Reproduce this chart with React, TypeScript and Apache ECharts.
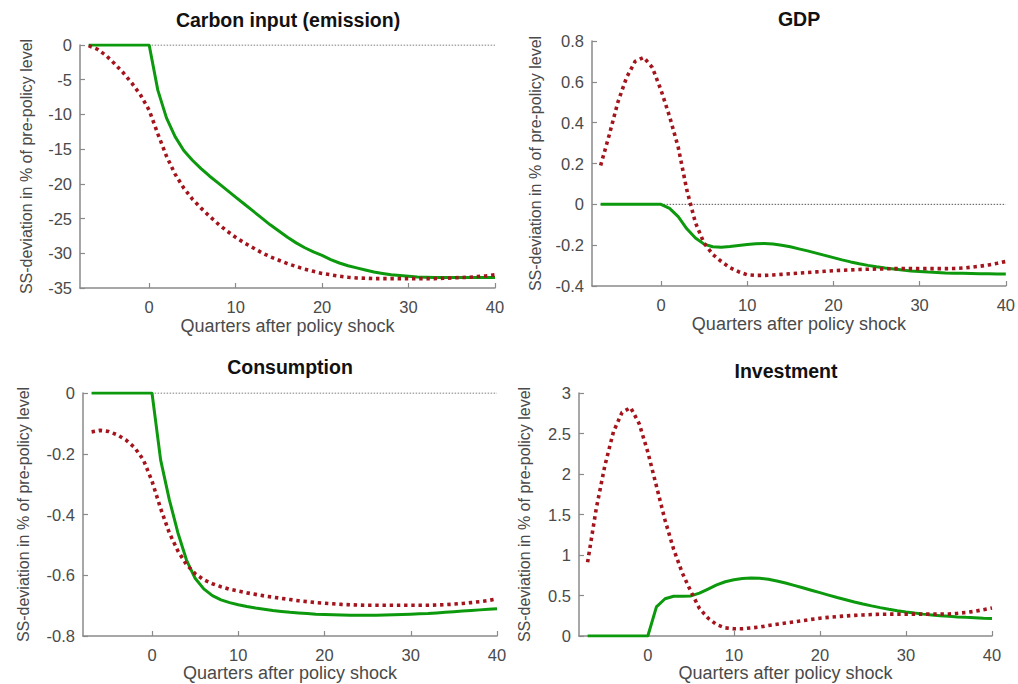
import React, { useEffect, useRef } from "react";
import * as echarts from "echarts";

// Quarters relative to the policy shock
const quarters = [
  -7, -6, -5, -4, -3, -2, -1, 0, 1, 2, 3, 4, 5, 6, 7, 8, 9, 10, 11, 12, 13, 14, 15, 16,
  17, 18, 19, 20, 21, 22, 23, 24, 25, 26, 27, 28, 29, 30, 31, 32, 33, 34, 35, 36, 37, 38, 39, 40,
];

// Carbon input (emission)
const carbonSurprise = [
  0, 0, 0, 0, 0, 0, 0, 0, -6.5, -10.5, -13.2, -15.2, -16.6, -17.8, -18.9, -19.9, -20.9, -21.9,
  -22.9, -23.9, -24.9, -25.9, -26.8, -27.7, -28.5, -29.2, -29.8, -30.3, -30.9, -31.4, -31.8,
  -32.1, -32.4, -32.7, -32.9, -33.1, -33.2, -33.3, -33.4, -33.45, -33.5, -33.5, -33.5, -33.5,
  -33.5, -33.5, -33.5, -33.5,
];
const carbonAnnounced = [
  -0.1, -0.6, -1.5, -2.7, -4.0, -5.5, -7.2, -9.4, -12.8, -16.0, -18.6, -20.6, -22.2, -23.5,
  -24.7, -25.8, -26.8, -27.7, -28.5, -29.2, -29.9, -30.5, -31.0, -31.5, -31.9, -32.3, -32.6,
  -32.9, -33.1, -33.3, -33.45, -33.55, -33.6, -33.65, -33.65, -33.65, -33.65, -33.65, -33.65,
  -33.65, -33.65, -33.6, -33.55, -33.5, -33.45, -33.35, -33.25, -33.1,
];

// GDP
const gdpSurprise = [
  0, 0, 0, 0, 0, 0, 0, 0, -0.02, -0.06, -0.12, -0.165, -0.195, -0.208, -0.21, -0.207, -0.202,
  -0.197, -0.193, -0.192, -0.194, -0.2, -0.208, -0.218, -0.228, -0.239, -0.25, -0.261, -0.272,
  -0.282, -0.291, -0.299, -0.306, -0.312, -0.317, -0.322, -0.326, -0.329, -0.332, -0.334,
  -0.336, -0.337, -0.338, -0.339, -0.34, -0.34, -0.341, -0.341,
];
const gdpAnnounced = [
  0.19, 0.34, 0.5, 0.62, 0.7, 0.72, 0.67, 0.56, 0.43, 0.28, 0.07, -0.09, -0.19, -0.245, -0.28,
  -0.31, -0.33, -0.345, -0.348, -0.348, -0.346, -0.343, -0.34, -0.337, -0.334, -0.331, -0.328,
  -0.325, -0.323, -0.321, -0.319, -0.318, -0.317, -0.316, -0.315, -0.315, -0.315, -0.315,
  -0.315, -0.315, -0.315, -0.314, -0.312, -0.308, -0.303, -0.297, -0.289, -0.28,
];

// Consumption
const consumptionSurprise = [
  0, 0, 0, 0, 0, 0, 0, 0, -0.22, -0.35, -0.46, -0.55, -0.61, -0.645, -0.667, -0.681, -0.69,
  -0.697, -0.703, -0.708, -0.712, -0.716, -0.719, -0.722, -0.724, -0.726, -0.728, -0.729,
  -0.73, -0.731, -0.732, -0.732, -0.732, -0.732, -0.731, -0.73, -0.729, -0.728, -0.727,
  -0.726, -0.724, -0.722, -0.72, -0.718, -0.716, -0.714, -0.712, -0.71,
];
const consumptionAnnounced = [
  -0.128, -0.123, -0.127, -0.138, -0.155, -0.18, -0.22, -0.29, -0.38, -0.46, -0.52, -0.565,
  -0.595, -0.615, -0.628, -0.638, -0.646, -0.652, -0.658, -0.663, -0.668, -0.672, -0.676,
  -0.68, -0.684, -0.687, -0.69, -0.692, -0.694, -0.696, -0.697, -0.698, -0.699, -0.699, -0.699,
  -0.699, -0.699, -0.699, -0.699, -0.699, -0.698, -0.697, -0.695, -0.693, -0.69, -0.687,
  -0.683, -0.678,
];

// Investment
const investmentSurprise = [
  0, 0, 0, 0, 0, 0, 0, 0, 0.36, 0.46, 0.49, 0.49, 0.495, 0.53, 0.58, 0.63, 0.67, 0.695, 0.71,
  0.715, 0.712, 0.7, 0.68, 0.655, 0.625, 0.595, 0.565, 0.535, 0.505, 0.475, 0.448, 0.42, 0.395,
  0.372, 0.35, 0.33, 0.313, 0.297, 0.283, 0.27, 0.26, 0.25, 0.243, 0.236, 0.23, 0.225, 0.22,
  0.216,
];
const investmentAnnounced = [
  0.91, 1.57, 2.1, 2.52, 2.76, 2.82, 2.62, 2.27, 1.85, 1.43, 1.07, 0.78, 0.55, 0.34, 0.22,
  0.14, 0.1, 0.09, 0.09, 0.1, 0.11, 0.13, 0.145, 0.16, 0.175, 0.19, 0.205, 0.22, 0.23, 0.24,
  0.248, 0.255, 0.26, 0.265, 0.268, 0.27, 0.27, 0.27, 0.27, 0.27, 0.27, 0.27, 0.272, 0.28,
  0.29, 0.305, 0.325, 0.345,
];

const xTickValues = [0, 10, 20, 30, 40];
const yAxisTitle = "SS-deviation in % of pre-policy level";
const xAxisTitle = "Quarters after policy shock";

const FONT = "'Liberation Sans', Arial, Helvetica, sans-serif";
const AXIS_GREY = "#8a8a8a";
const LABEL_GREY = "#4a4a4a";
const GREEN = "#0d990d";
const DARK_RED = "#a3141c";

type Panel = {
  title: string;
  titleX: number;
  titleY: number;
  grid: { left: number; top: number; width: number; height: number };
  yMin: number;
  yMax: number;
  yStep: number;
  yNameGap: number;
  xNameGap: number;
  zeroLine: boolean;
  solid: number[];
  dotted: number[];
};

const panels: Panel[] = [
  {
    title: "Carbon input (emission)",
    titleX: 288,
    titleY: 20,
    grid: { left: 80, top: 45, width: 415, height: 243 },
    yMin: -35,
    yMax: 0,
    yStep: 5,
    yNameGap: 46,
    xNameGap: 29,
    zeroLine: true,
    solid: carbonSurprise,
    dotted: carbonAnnounced,
  },
  {
    title: "GDP",
    titleX: 799,
    titleY: 19,
    grid: { left: 592, top: 41, width: 416, height: 245 },
    yMin: -0.4,
    yMax: 0.8,
    yStep: 0.2,
    yNameGap: 49,
    xNameGap: 29,
    zeroLine: true,
    solid: gdpSurprise,
    dotted: gdpAnnounced,
  },
  {
    title: "Consumption",
    titleX: 290,
    titleY: 367,
    grid: { left: 83, top: 393, width: 414, height: 243 },
    yMin: -0.8,
    yMax: 0,
    yStep: 0.2,
    yNameGap: 52,
    xNameGap: 28,
    zeroLine: true,
    solid: consumptionSurprise,
    dotted: consumptionAnnounced,
  },
  {
    title: "Investment",
    titleX: 786,
    titleY: 371,
    grid: { left: 579, top: 393, width: 413, height: 243 },
    yMin: 0,
    yMax: 3,
    yStep: 0.5,
    yNameGap: 47,
    xNameGap: 28,
    zeroLine: false,
    solid: investmentSurprise,
    dotted: investmentAnnounced,
  },
];

const pair = (values: number[]) => values.map((v, i) => [quarters[i], v]);

function buildOption() {
  const axisLine = { show: true, onZero: false, lineStyle: { color: AXIS_GREY, width: 1.5 } };
  const grids = panels.map((p) => ({ ...p.grid, containLabel: false }));

  const xAxes = panels.map((p, i) => ({
    type: "value",
    gridIndex: i,
    min: -8,
    max: 40,
    axisLine,
    axisTick: {
      show: true,
      inside: true,
      length: 5,
      customValues: xTickValues,
      lineStyle: { color: AXIS_GREY, width: 1.2 },
    },
    axisLabel: {
      customValues: xTickValues,
      color: LABEL_GREY,
      fontSize: 16.5,
      fontFamily: FONT,
      margin: 10,
    },
    splitLine: { show: false },
    name: xAxisTitle,
    nameLocation: "middle",
    nameGap: p.xNameGap,
    nameTextStyle: { color: LABEL_GREY, fontSize: 18, fontFamily: FONT },
  }));

  const yAxes = panels.map((p, i) => ({
    type: "value",
    gridIndex: i,
    min: p.yMin,
    max: p.yMax,
    interval: p.yStep,
    axisLine,
    axisTick: {
      show: true,
      inside: true,
      length: 5,
      lineStyle: { color: AXIS_GREY, width: 1.2 },
    },
    axisLabel: {
      color: LABEL_GREY,
      fontSize: 16.5,
      fontFamily: FONT,
      margin: 8,
    },
    splitLine: { show: false },
    name: yAxisTitle,
    nameLocation: "middle",
    nameRotate: 90,
    nameGap: p.yNameGap,
    nameTextStyle: { color: LABEL_GREY, fontSize: 16, fontFamily: FONT },
  }));

  const series: any[] = [];
  panels.forEach((p, i) => {
    if (p.zeroLine) {
      series.push({
        type: "line",
        xAxisIndex: i,
        yAxisIndex: i,
        data: [
          [quarters[0], 0],
          [quarters[quarters.length - 1], 0],
        ],
        showSymbol: false,
        silent: true,
        z: 1,
        lineStyle: { color: "#555555", width: 1, type: [1.5, 1.5] },
      });
    }
    series.push({
      type: "line",
      xAxisIndex: i,
      yAxisIndex: i,
      data: pair(p.solid),
      showSymbol: false,
      silent: true,
      z: 2,
      lineStyle: { color: GREEN, width: 3 },
    });
    series.push({
      type: "line",
      xAxisIndex: i,
      yAxisIndex: i,
      data: pair(p.dotted),
      showSymbol: false,
      silent: true,
      z: 3,
      lineStyle: { color: DARK_RED, width: 3.6, type: [3.4, 3.8], cap: "butt" },
    });
  });

  const titles = panels.map((p) => ({
    type: "text",
    x: p.titleX,
    y: p.titleY,
    style: {
      text: p.title,
      textAlign: "center",
      textVerticalAlign: "middle",
      fill: "#111111",
      font: `bold 19.5px ${FONT}`,
    },
  }));

  return {
    animation: false,
    backgroundColor: "#ffffff",
    grid: grids,
    xAxis: xAxes,
    yAxis: yAxes,
    series,
    graphic: titles,
  };
}

export default function App() {
  const ref = useRef<HTMLDivElement>(null);

  useEffect(() => {
    if (!ref.current) return;
    const chart = echarts.init(ref.current, undefined, { renderer: "svg" });
    chart.setOption(buildOption() as any);
    return () => chart.dispose();
  }, []);

  return (
    <div
      ref={ref}
      style={{
        position: "absolute",
        left: 0,
        top: 0,
        width: 1018,
        height: 684,
        background: "#ffffff",
      }}
    />
  );
}
